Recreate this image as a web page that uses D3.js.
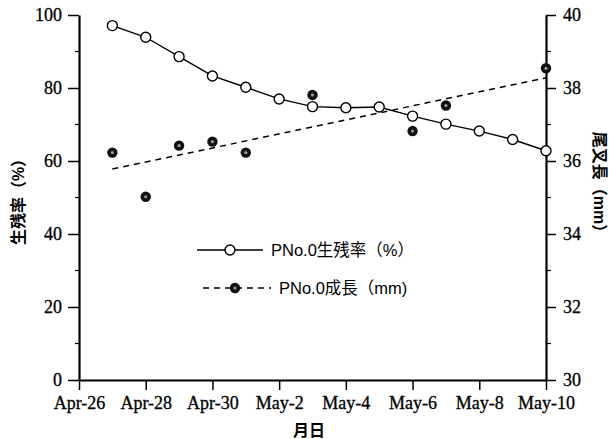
<!DOCTYPE html>
<html>
<head>
<meta charset="utf-8">
<script src="https://cdn.jsdelivr.net/npm/d3@7"></script>
<style>
  html, body { margin: 0; padding: 0; background: #fff; }
  svg { display: block; }
</style>
</head>
<body>
<svg id="chart" width="609" height="439"></svg>
<script>
// Daily observations, Apr-27 .. May-10
const survivalDates = ["2000-04-27","2000-04-28","2000-04-29","2000-04-30","2000-05-01","2000-05-02","2000-05-03","2000-05-04","2000-05-05","2000-05-06","2000-05-07","2000-05-08","2000-05-09","2000-05-10"];
const survivalPct   = [97.1, 93.9, 88.6, 83.3, 80.2, 77.0, 74.9, 74.6, 74.8, 72.3, 70.1, 68.2, 65.9, 62.8];

const growthDates = ["2000-04-27","2000-04-28","2000-04-29","2000-04-30","2000-05-01","2000-05-03","2000-05-06","2000-05-07","2000-05-10"];
const growthMm    = [36.23, 35.02, 36.42, 36.53, 36.23, 37.81, 36.82, 37.52, 38.54];

// Linear trend of growth, end points
const trendDates = ["2000-04-27","2000-05-10"];
const trendMm    = [35.78, 38.28];

const xTickDates  = ["2000-04-26","2000-04-28","2000-04-30","2000-05-02","2000-05-04","2000-05-06","2000-05-08","2000-05-10"];
const xTickLabels = ["Apr-26","Apr-28","Apr-30","May-2","May-4","May-6","May-8","May-10"];
const leftTicks   = [0, 20, 40, 60, 80, 100];
const leftMinor   = [10, 30, 50, 70, 90];
const rightTicks  = [30, 32, 34, 36, 38, 40];
const rightMinor  = [31, 33, 35, 37, 39];

const legendLabels = ["PNo.0生残率（%）", "PNo.0成長（mm)"];
const leftTitle  = "生残率（%）";
const rightTitle = "尾叉長（mm）";
const xTitle     = "月日";

const parse = d3.timeParse("%Y-%m-%d");
const svg = d3.select("#chart");
const m = { left: 79, right: 546, top: 15, bottom: 380 };

const x = d3.scaleTime()
  .domain([parse("2000-04-26"), parse("2000-05-10")])
  .range([m.left, m.right]);
const yL = d3.scaleLinear().domain([0, 100]).range([m.bottom, m.top]);
const yR = d3.scaleLinear().domain([30, 40]).range([m.bottom, m.top]);

const serif = "'Liberation Serif', 'DejaVu Serif', serif";
const sans  = "'Liberation Sans', Arial, 'Noto Sans CJK JP', sans-serif";

function styleAxis(g, fontSize) {
  g.select(".domain").attr("stroke", "#000").attr("stroke-width", 2.2);
  g.selectAll(".tick line").attr("stroke", "#000").attr("stroke-width", 1.5);
  g.selectAll(".tick text")
    .attr("fill", "#000")
    .attr("stroke", "#000")
    .attr("stroke-width", 0.3)
    .style("font-family", serif)
    .style("font-size", fontSize + "px");
}

// Left axis
const gL = svg.append("g").attr("transform", `translate(${m.left},0)`)
  .call(d3.axisLeft(yL).tickValues(leftTicks).tickSize(11).tickSizeOuter(0).tickPadding(6));
styleAxis(gL, 18);
gL.selectAll(".minor").data(leftMinor).join("line")
  .attr("x1", -4).attr("x2", 0)
  .attr("y1", d => yL(d)).attr("y2", d => yL(d))
  .attr("stroke", "#000").attr("stroke-width", 1.2);

// Right axis
const gR = svg.append("g").attr("transform", `translate(${m.right},0)`)
  .call(d3.axisRight(yR).tickValues(rightTicks).tickSize(10).tickSizeOuter(0).tickPadding(7));
styleAxis(gR, 18);
gR.selectAll(".minor").data(rightMinor).join("line")
  .attr("x1", 0).attr("x2", 5)
  .attr("y1", d => yR(d)).attr("y2", d => yR(d))
  .attr("stroke", "#000").attr("stroke-width", 1.2);

// Bottom axis
const gX = svg.append("g").attr("transform", `translate(0,${m.bottom})`)
  .call(d3.axisBottom(x)
    .tickValues(xTickDates.map(parse))
    .tickFormat((d, i) => xTickLabels[i])
    .tickSize(10).tickSizeOuter(0).tickPadding(6));
styleAxis(gX, 18);
gX.selectAll(".tick text").attr("dy", "0.71em");

// Axis titles
svg.append("text")
  .attr("transform", `translate(24,198) rotate(-90)`)
  .attr("text-anchor", "middle")
  .style("font-family", sans).style("font-size", "16px").style("font-weight", "bold")
  .text(leftTitle);

svg.append("text")
  .attr("transform", `translate(594,186) rotate(90)`)
  .attr("text-anchor", "middle")
  .style("font-family", sans).style("font-size", "16px").style("font-weight", "bold")
  .text(rightTitle);

svg.append("text")
  .attr("x", 309).attr("y", 436)
  .attr("text-anchor", "middle")
  .style("font-family", sans).style("font-size", "16px").style("font-weight", "bold")
  .text(xTitle);

// Growth trend (dashed)
const trend = trendDates.map((d, i) => ({ d: parse(d), v: trendMm[i] }));
svg.append("path")
  .datum(trend)
  .attr("fill", "none")
  .attr("stroke", "#000")
  .attr("stroke-width", 1.5)
  .attr("stroke-dasharray", "6,5")
  .attr("d", d3.line().x(p => x(p.d)).y(p => yR(p.v)));

// Survival line with open circles
const surv = survivalDates.map((d, i) => ({ d: parse(d), v: survivalPct[i] }));
svg.append("path")
  .datum(surv)
  .attr("fill", "none")
  .attr("stroke", "#000")
  .attr("stroke-width", 1.4)
  .attr("d", d3.line().x(p => x(p.d)).y(p => yL(p.v)));
svg.selectAll(".surv").data(surv).join("circle")
  .attr("class", "surv")
  .attr("cx", p => x(p.d)).attr("cy", p => yL(p.v))
  .attr("r", 5).attr("fill", "#fff").attr("stroke", "#000").attr("stroke-width", 1.4);

// Growth points
const growth = growthDates.map((d, i) => ({ d: parse(d), v: growthMm[i] }));
function growthMarker(sel) {
  sel.append("circle").attr("r", 5.2).attr("fill", "#111");
  sel.append("circle").attr("r", 1.6).attr("fill", "#9a9a9a");
}
svg.selectAll(".grow").data(growth).join("g")
  .attr("class", "grow")
  .attr("transform", p => `translate(${x(p.d)},${yR(p.v)})`)
  .call(growthMarker);

// Legend
const lg = svg.append("g");
lg.append("line").attr("x1", 197).attr("x2", 263).attr("y1", 250).attr("y2", 250)
  .attr("stroke", "#000").attr("stroke-width", 1.4);
lg.append("circle").attr("cx", 230).attr("cy", 250).attr("r", 5)
  .attr("fill", "#fff").attr("stroke", "#000").attr("stroke-width", 1.4);
lg.append("text").attr("x", 271).attr("y", 256)
  .style("font-family", sans).style("font-size", "16.5px")
  .text(legendLabels[0]);

lg.append("line").attr("x1", 203).attr("x2", 271).attr("y1", 288).attr("y2", 288)
  .attr("stroke", "#000").attr("stroke-width", 1.5).attr("stroke-dasharray", "6,5");
lg.append("g").attr("transform", "translate(235,288)").call(growthMarker);
lg.append("text").attr("x", 279).attr("y", 294)
  .style("font-family", sans).style("font-size", "16.5px")
  .text(legendLabels[1]);
</script>
</body>
</html>
